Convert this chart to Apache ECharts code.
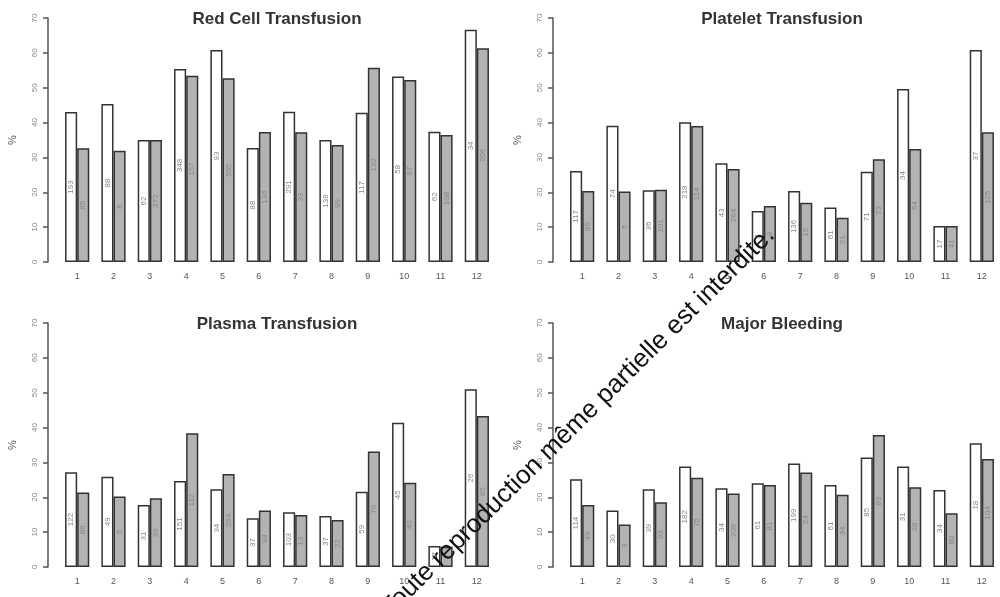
<!DOCTYPE html>
<html>
<head>
<meta charset="utf-8">
<script src="https://cdn.jsdelivr.net/npm/echarts@6/dist/echarts.min.js"></script>
<style>
html,body{margin:0;padding:0;background:#fff;}
#chart{width:1000px;height:597px;}
</style>
</head>
<body>
<div id="chart"></div>
<script>
const categories = ['1','2','3','4','5','6','7','8','9','10','11','12'];
const yTicks = [0,10,20,30,40,50,60,70];

const redWhite  = [43.0, 45.3, 35.0, 55.4, 60.8, 32.7, 43.1, 35.0, 42.8, 53.2, 37.4, 66.6];
const redGray   = [32.6, 31.9, 35.0, 53.4, 52.7, 37.3, 37.2, 33.6, 55.7, 52.2, 36.4, 61.3];
const redWhiteN = ['193','88','62','348','93','88','291','138','117','58','62','34'];
const redGrayN  = ['85','8','372','157','505','136','33','99','132','87','108','206'];

const pltWhite  = [26.1, 39.1, 20.6, 40.1, 28.3, 14.6, 20.4, 15.6, 25.9, 49.6, 10.3, 60.8];
const pltGray   = [20.4, 20.2, 20.7, 39.0, 26.7, 16.1, 17.0, 12.7, 29.5, 32.4, 10.3, 37.2];
const pltWhiteN = ['117','74','36','218','43','8','136','61','71','34','17','37'];
const pltGrayN  = ['86','5','101','114','264','8','15','21','73','54','41','125'];

const plsWhite  = [27.2, 25.9, 17.8, 24.7, 22.3, 14.0, 15.7, 14.6, 21.6, 41.4, 6.0, 51.0];
const plsGray   = [21.4, 20.2, 19.7, 38.4, 26.7, 16.2, 14.9, 13.5, 33.1, 24.2, 5.8, 43.3];
const plsWhiteN = ['122','49','31','151','34','37','103','37','59','45','17','26'];
const plsGrayN  = ['86','5','96','112','264','98','13','22','76','40','1','85'];

const bldWhite  = [25.2, 16.2, 22.3, 28.8, 22.6, 24.0, 29.7, 23.5, 31.4, 28.8, 22.1, 35.5];
const bldGray   = [17.8, 12.2, 18.6, 25.6, 21.1, 23.5, 27.1, 20.7, 37.9, 22.9, 15.4, 31.0];
const bldWhiteN = ['114','30','39','182','34','61','199','61','85','31','34','18'];
const bldGrayN  = ['49','3','93','75','206','81','24','34','89','38','80','104'];

const titles = ['Red Cell Transfusion','Platelet Transfusion','Plasma Transfusion','Major Bleeding'];
const watermark = 'Toute reproduction même partielle est interdite.';

const panels = [
  {w: redWhite, g: redGray, wn: redWhiteN, gn: redGrayN, left: 59, top: 18, title: titles[0], tx: 277, ty: 11},
  {w: pltWhite, g: pltGray, wn: pltWhiteN, gn: pltGrayN, left: 564, top: 18, title: titles[1], tx: 782, ty: 11},
  {w: plsWhite, g: plsGray, wn: plsWhiteN, gn: plsGrayN, left: 59, top: 323, title: titles[2], tx: 277, ty: 316},
  {w: bldWhite, g: bldGray, wn: bldWhiteN, gn: bldGrayN, left: 564, top: 323, title: titles[3], tx: 782, ty: 316}
];

const FONT = '"Liberation Sans", Arial, sans-serif';
const grids = [], xAxes = [], yAxes = [], series = [], graphics = [];

panels.forEach((p, i) => {
  grids.push({left: p.left, top: p.top, width: 436, height: 244});
  xAxes.push({
    type: 'category', gridIndex: i, data: categories,
    axisLine: {show: false}, axisTick: {show: false},
    axisLabel: {color: '#555', fontSize: 9, fontFamily: FONT, margin: 10}
  });
  yAxes.push({
    type: 'value', gridIndex: i, min: 0, max: 70, interval: 10, offset: 11,
    name: '%', nameLocation: 'middle', nameGap: 30, nameRotate: 90,
    nameTextStyle: {color: '#555', fontSize: 11, fontFamily: FONT},
    axisLine: {show: true, lineStyle: {color: '#555', width: 1.5}},
    axisTick: {show: true, length: 5, lineStyle: {color: '#555', width: 1.5}},
    axisLabel: {rotate: 90, color: '#888', fontSize: 8, fontFamily: FONT, margin: 9,
                formatter: v => yTicks.includes(v) ? String(v) : ''},
    splitLine: {show: false}
  });
  const lbl = arr => ({
    show: true, position: 'inside', rotate: 90, color: '#888', fontSize: 8, fontFamily: FONT,
    formatter: prm => arr[prm.dataIndex]
  });
  series.push({
    type: 'bar', xAxisIndex: i, yAxisIndex: i, data: p.w,
    barGap: '0%', barCategoryGap: '33.3%',
    itemStyle: {color: '#ffffff', borderColor: '#333', borderWidth: 1.5},
    label: lbl(p.wn), silent: true
  });
  series.push({
    type: 'bar', xAxisIndex: i, yAxisIndex: i, data: p.g,
    barGap: '0%', barCategoryGap: '33.3%',
    itemStyle: {color: '#b3b3b3', borderColor: '#333', borderWidth: 1.5},
    label: lbl(p.gn), silent: true
  });
  graphics.push({
    type: 'text', x: p.tx, y: p.ty,
    style: {text: p.title, fill: '#333', font: 'bold 17px ' + FONT, textAlign: 'center', textVerticalAlign: 'top'}
  });
});

graphics.push({
  type: 'text', x: 578, y: 422, rotation: 0.78, z: 100,
  style: {text: watermark, fill: '#111', font: '26px ' + FONT,
          textAlign: 'center', textVerticalAlign: 'middle'}
});

const chart = echarts.init(document.getElementById('chart'), null, {renderer: 'canvas'});
chart.setOption({
  animation: false,
  grid: grids, xAxis: xAxes, yAxis: yAxes, series: series, graphic: graphics
});
</script>
</body>
</html>
